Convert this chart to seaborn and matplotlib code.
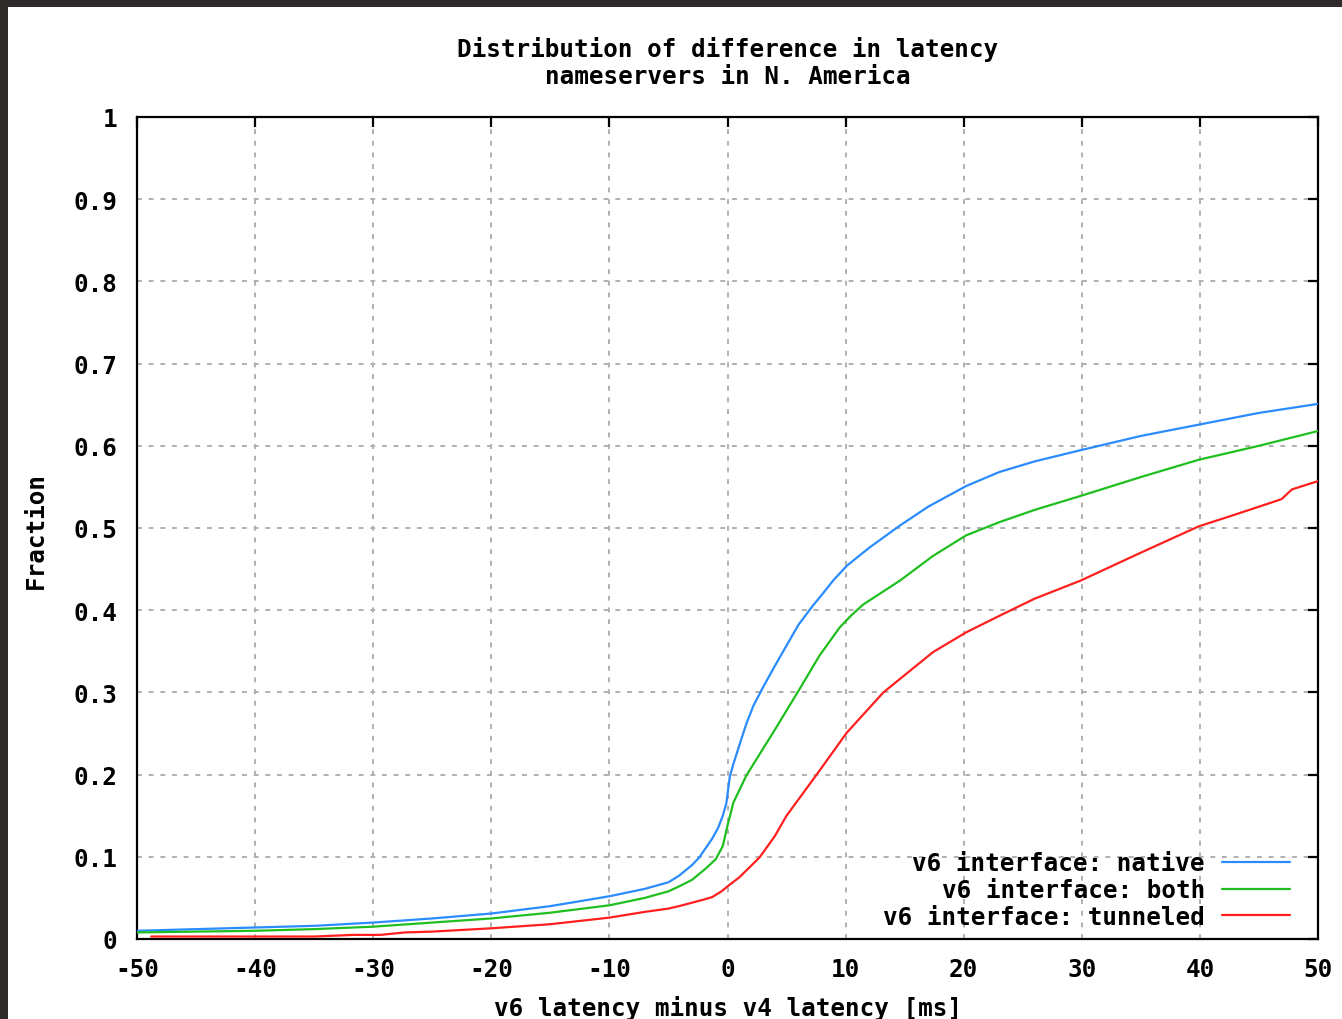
import numpy as np
import pandas as pd
import matplotlib
matplotlib.use("Agg")
import matplotlib.pyplot as plt
from matplotlib.patches import Rectangle
import seaborn as sns

# ---- data ----
native_x = [-50, -45, -40, -35, -30, -25, -20, -15, -10, -7, -5, -4.1, -3, -2.4, -1.3,
            -0.8, -0.4, -0.1, 0.2, 0.5, 1.1, 1.6, 2.2, 3.0, 4.0, 5.0, 6.0, 7.2, 8.0, 9.0,
            10.1, 12.0, 14.6, 17.0, 20.2, 23.0, 26.0, 30.0, 35.0, 40.0, 45.0, 50.0]
native_y = [0.010, 0.012, 0.014, 0.016, 0.020, 0.025, 0.031, 0.040, 0.052, 0.061, 0.069,
            0.077, 0.090, 0.099, 0.122, 0.135, 0.150, 0.165, 0.198, 0.213, 0.240, 0.262,
            0.284, 0.306, 0.332, 0.357, 0.382, 0.405, 0.419, 0.437, 0.454, 0.476, 0.503,
            0.526, 0.551, 0.568, 0.581, 0.595, 0.612, 0.626, 0.640, 0.651]

both_x = [-50, -45, -40, -35, -30, -25, -20, -15, -10, -7, -5, -4.1, -3, -1.9, -1.0,
          -0.4, 0.0, 0.5, 1.6, 3.9, 6.1, 7.8, 9.5, 10.5, 11.5, 14.6, 17.4, 20.2, 23.0,
          26.0, 29.9, 35.0, 39.9, 45.0, 50.0]
both_y = [0.008, 0.009, 0.010, 0.012, 0.015, 0.020, 0.025, 0.032, 0.041, 0.050, 0.058,
          0.064, 0.072, 0.085, 0.097, 0.113, 0.138, 0.166, 0.199, 0.252, 0.304, 0.345,
          0.379, 0.394, 0.407, 0.436, 0.466, 0.491, 0.507, 0.522, 0.539, 0.562, 0.583,
          0.600, 0.618]

tunneled_x = [-48.8, -40, -35, -31.7, -29.4, -27.3, -25, -20, -15, -10, -7, -5, -4.1,
              -2, -1.3, -0.5, 0.0, 1.0, 2.7, 4.0, 5.0, 7.5, 10.1, 13.2, 17.4, 20.2, 23.0,
              26.0, 29.9, 35.0, 39.9, 42.7, 46.9, 47.8, 50.0]
tunneled_y = [0.003, 0.003, 0.003, 0.005, 0.005, 0.008, 0.009, 0.013, 0.018, 0.026,
              0.033, 0.037, 0.040, 0.048, 0.051, 0.058, 0.064, 0.075, 0.099, 0.125,
              0.150, 0.199, 0.251, 0.300, 0.349, 0.373, 0.393, 0.414, 0.436, 0.470,
              0.502, 0.515, 0.535, 0.547, 0.557]

series_names = ["v6 interface: native", "v6 interface: both", "v6 interface: tunneled"]
series_colors = ["#2a8cff", "#1fbf1f", "#ff1f1f"]

x_ticks = [-50, -40, -30, -20, -10, 0, 10, 20, 30, 40, 50]
y_ticks = [0, 0.1, 0.2, 0.3, 0.4, 0.5, 0.6, 0.7, 0.8, 0.9, 1.0]
y_tick_labels = ["0", "0.1", "0.2", "0.3", "0.4", "0.5", "0.6", "0.7", "0.8", "0.9", "1"]

title_lines = ["Distribution of difference in latency", "nameservers in N. America"]
x_label = "v6 latency minus v4 latency [ms]"
y_label = "Fraction"

# ---- build long-form table ----
frames = []
for name, xs, ys in zip(series_names,
                        [native_x, both_x, tunneled_x],
                        [native_y, both_y, tunneled_y]):
    frames.append(pd.DataFrame({"diff": xs, "fraction": ys, "series": name}))
df = pd.concat(frames, ignore_index=True)

# ---- style ----
sns.set_style("white")
FONT = ["DejaVu Sans Mono", "Liberation Mono"]
plt.rcParams["font.family"] = FONT
plt.rcParams["font.weight"] = "bold"
plt.rcParams["axes.unicode_minus"] = False
plt.rcParams["text.color"] = "black"
plt.rcParams["axes.labelcolor"] = "black"
plt.rcParams["xtick.color"] = "black"
plt.rcParams["ytick.color"] = "black"
FS = 17.5

W, H = 1342, 1020
fig = plt.figure(figsize=(W / 100, H / 100), dpi=100)
fig.patch.set_facecolor("#2e2a2a")
# white page area (screenshot border on the left and top)
fig.add_artist(Rectangle((8 / W, 0), 1 - 8 / W, 1 - 8 / H, transform=fig.transFigure,
                         facecolor="white", edgecolor="none", zorder=0))

L, R, T, B = 137, 1318, 118, 940
ax = fig.add_axes([L / W, 1 - B / H, (R - L) / W, (B - T) / H])
ax.set_facecolor("white")

sns.lineplot(data=df, x="diff", y="fraction", hue="series", hue_order=series_names,
             palette=series_colors, estimator=None, sort=False, linewidth=1.6,
             ax=ax, legend=True, zorder=3)

ax.set_xlim(-50, 50)
ax.set_ylim(0, 1)
ax.set_xticks(x_ticks)
ax.set_xticklabels([str(v) for v in x_ticks])
ax.set_yticks(y_ticks)
ax.set_yticklabels(y_tick_labels)

for s in ax.spines.values():
    s.set_visible(True)
    s.set_color("black")
    s.set_linewidth(1.6)

ax.tick_params(direction="in", length=7, width=1.6, top=True, right=True,
               labelsize=FS, colors="black")
ax.tick_params(axis="x", pad=13)
ax.tick_params(axis="y", pad=14)
for lab in ax.get_xticklabels() + ax.get_yticklabels():
    lab.set_fontweight("bold")
    lab.set_color("black")

ax.grid(True, color="#b0b0b0", linewidth=1.4, linestyle=(0, (2.5, 3.5)))
ax.set_axisbelow(True)

ax.set_xlabel(x_label, fontsize=FS, fontweight="bold", color="black")
ax.xaxis.set_label_coords(0.5, (B - 1009) / (B - T))
ax.xaxis.label.set_va("center")
ax.set_ylabel(y_label, fontsize=FS, fontweight="bold", color="black")
ax.yaxis.set_label_coords((36 - L) / (R - L), 0.5 + (529 - 531) / (B - T))
ax.yaxis.label.set_va("center")

fig.text((L + R) / 2 / W, 1 - 49 / H, title_lines[0], ha="center", va="center",
         fontsize=FS, fontweight="bold", color="black")
fig.text((L + R) / 2 / W, 1 - 77 / H, title_lines[1], ha="center", va="center",
         fontsize=FS, fontweight="bold", color="black")

handles, labels = ax.get_legend_handles_labels()
leg = ax.legend(handles, labels, loc="lower right",
                bbox_to_anchor=((1290 - L) / (R - L), (B - 930) / (B - T)),
                frameon=False, markerfirst=False, borderpad=0, borderaxespad=0,
                handlelength=2.8, handletextpad=0.7, labelspacing=0.12,
                prop={"family": FONT, "weight": "bold", "size": FS})
leg._legend_box.align = "right"
for t in leg.get_texts():
    t.set_color("black")
for lh in leg.get_lines():
    lh.set_linewidth(1.6)

fig.savefig("out.png", dpi=100, facecolor=fig.get_facecolor())
